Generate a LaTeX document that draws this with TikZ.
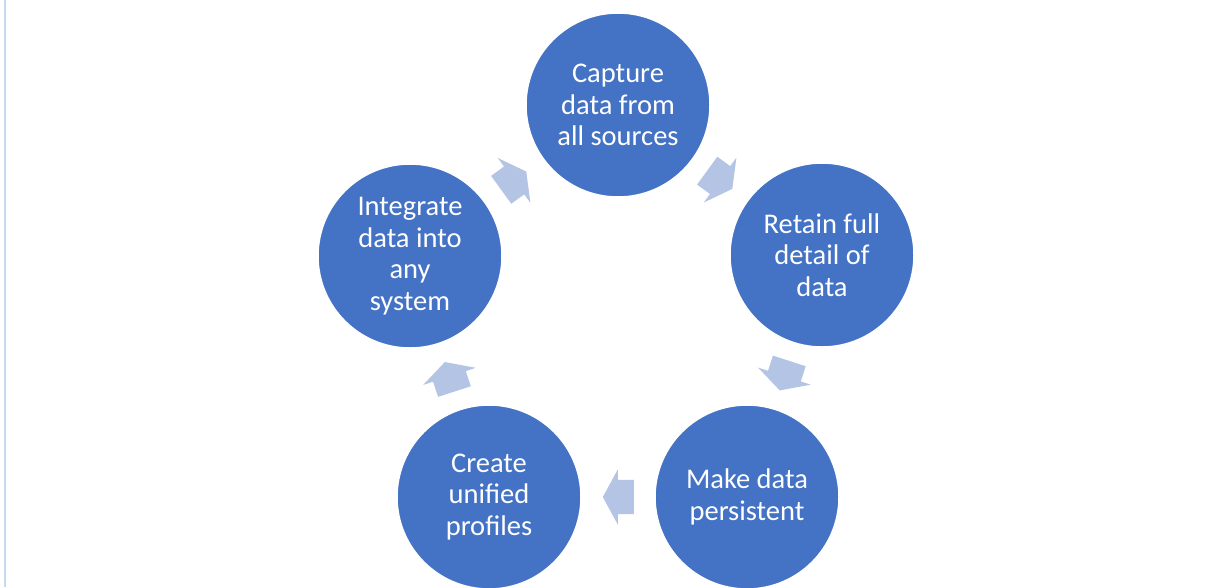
\documentclass[tikz,border=0pt]{standalone}
\usepackage{fontspec}
\setmainfont{Carlito}
\usetikzlibrary{shapes.arrows,calc}
\definecolor{circblue}{RGB}{68,114,196}
\definecolor{arrblue}{RGB}{180,196,228}
\definecolor{edgeblue}{RGB}{198,217,241}
\begin{document}
\begin{tikzpicture}[x=1pt,y=-1pt,
  stage/.style={circle, fill=circblue, draw=white, line width=1.5pt, minimum size=184pt, inner sep=0pt, text=white, align=center, font=\fontsize{28.5}{31.5}\selectfont},
  cyc/.style={single arrow, fill=arrblue, draw=none, minimum height=31pt, single arrow head extend=10.5pt, inner xsep=0pt, inner ysep=17pt, single arrow tip angle=123, rotate=#1}]
\useasboundingbox (0,0) rectangle (1229,587);
\fill[white] (0,0) rectangle (1229,587);
\draw[edgeblue, line width=2pt] (5,0) -- (5,587);
\node[stage] (top) at (618,105) {Capture\\data from\\all sources};
\node[stage] (right) at (822,255) {Retain full\\detail of\\data};
\node[stage] (br) at (747,497) {Make data\\persistent};
\node[stage] (bl) at (489,497) {Create\\unified\\profiles};
\node[stage] (left) at (410,256) {Integrate\\data into\\any\\system};
\node[cyc=-36] (a1) at ($($(top)!0.5!(right)$)!5pt!(top)$) {};
\node[cyc=-108] (a2) at ($($(right)!0.5!(br)$)!5pt!(right)$) {};
\node[cyc=180] (a3) at ($($(br)!0.5!(bl)$)!5pt!(br)$) {};
\node[cyc=108] (a4) at ($($(bl)!0.5!(left)$)!5pt!(bl)$) {};
\node[cyc=36] (a5) at ($($(left)!0.5!(top)$)!5pt!(left)$) {};
\end{tikzpicture}
\end{document}
